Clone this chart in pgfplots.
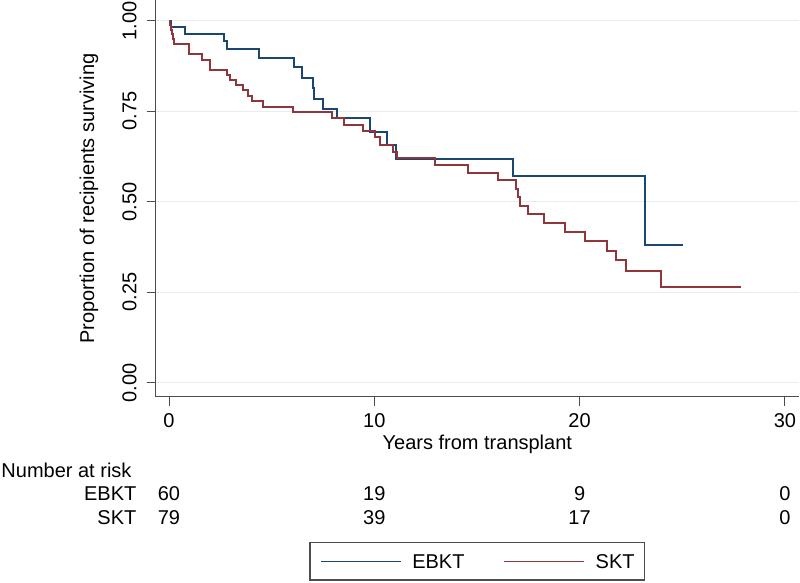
\documentclass[border=0pt]{standalone}
\usepackage{fontspec}
\setmainfont{Liberation Sans}
\usepackage{pgfplots}
\pgfplotsset{compat=1.18}

\definecolor{ebkt}{HTML}{1A476F}
\definecolor{skt}{HTML}{90353B}
\definecolor{gridc}{HTML}{E4EEF2}
\definecolor{axc}{HTML}{4D4D4D}

\begin{document}
\begin{tikzpicture}
	\path[use as bounding box] (0,0) rectangle (400pt,291.5pt);
	\begin{axis}[at={(77.85pt,93.15pt)}, anchor=south west, scale only axis, width=321.65pt, height=198.1pt,
		xmin=-0.648, xmax=30.687, ymin=-0.0387, ymax=1.0558,
		axis lines*=left, axis line style={axc, line width=0.7pt},
		tick align=outside, major tick length=4.5pt, tick style={axc, line width=0.5pt},
		xtick={0,10,20,30}, ytick={0,0.25,0.5,0.75,1},
		/pgf/number format/assume math mode=true,
		yticklabel style={rotate=90, anchor=south, inner sep=0pt, /pgf/number format/fixed, /pgf/number format/fixed zerofill, /pgf/number format/precision=2},
		yticklabel shift=4.85pt,
		xticklabel style={anchor=north, inner sep=0pt}, xticklabel shift=3.8pt,
		ymajorgrids, grid style={gridc, line width=0.6pt},
		xlabel={Years from transplant},
		xlabel style={at={(axis description cs:0.5,-0.1345)}, anchor=base, inner sep=0pt},
		ylabel={Proportion of recipients surviving},
		ylabel style={at={(axis description cs:-0.0959,0.5)}, anchor=base, inner sep=0pt},
		clip=false,
		legend columns=2,
		legend style={at={(axis description cs:0.5,-0.4152)}, anchor=center, draw=axc, line width=0.6pt, inner xsep=5pt, inner ysep=5.9pt, nodes={inner sep=0pt, text depth=0pt}, /tikz/every odd column/.append style={column sep=5.5pt}, /tikz/every even column/.append style={column sep=19.5pt}},
		legend image code/.code={\draw[#1, line width=0.6pt] (0pt,0pt) -- (40pt,0pt);}]

		% Kaplan-Meier curves
		\addplot[const plot, ebkt, line width=1pt] coordinates {
			(0,1.0) (0.08,0.983) (0.78,0.964) (2.69,0.944) (2.84,0.923) (4.40,0.898)
			(6.09,0.873) (6.48,0.843) (7.01,0.813) (7.05,0.785) (7.49,0.757) (8.18,0.730)
			(9.79,0.692) (10.64,0.657) (11.04,0.638) (11.08,0.619) (16.77,0.570)
			(23.19,0.381) (25.05,0.381)};
		\addlegendentry{EBKT}
		\addplot[const plot, skt, line width=1pt] coordinates {
			(0,1.0) (0.05,0.987) (0.10,0.975) (0.15,0.962) (0.20,0.949) (0.25,0.935)
			(0.99,0.908) (1.59,0.891) (2.00,0.865) (2.81,0.850) (2.97,0.836) (3.26,0.821)
			(3.59,0.808) (3.86,0.793) (4.04,0.779) (4.59,0.762) (6.03,0.748) (7.92,0.730)
			(8.54,0.713) (9.46,0.695) (10.03,0.679) (10.28,0.657) (10.93,0.638) (11.09,0.620)
			(12.96,0.601) (14.55,0.580) (16.04,0.559) (16.90,0.534) (16.99,0.512) (17.10,0.488)
			(17.47,0.465) (18.25,0.440) (19.30,0.416) (20.25,0.392) (21.35,0.365) (21.76,0.338)
			(22.25,0.308) (23.96,0.264) (27.85,0.264)};
		\addlegendentry{SKT}

		% number at risk table
		\node[anchor=base west, inner sep=0pt] at (axis cs:-8.18,-0.2613) {Number at risk};
		\node[anchor=base east, inner sep=0pt] at (axis cs:-1.573,-0.3268) {EBKT};
		\node[anchor=base east, inner sep=0pt] at (axis cs:-1.573,-0.3909) {SKT};
		\node[anchor=base, inner sep=0pt] at (axis cs:0,-0.3268) {60};
		\node[anchor=base, inner sep=0pt] at (axis cs:10,-0.3268) {19};
		\node[anchor=base, inner sep=0pt] at (axis cs:20,-0.3268) {9};
		\node[anchor=base, inner sep=0pt] at (axis cs:30,-0.3268) {0};
		\node[anchor=base, inner sep=0pt] at (axis cs:0,-0.3909) {79};
		\node[anchor=base, inner sep=0pt] at (axis cs:10,-0.3909) {39};
		\node[anchor=base, inner sep=0pt] at (axis cs:20,-0.3909) {17};
		\node[anchor=base, inner sep=0pt] at (axis cs:30,-0.3909) {0};
	\end{axis}
\end{tikzpicture}
\end{document}
